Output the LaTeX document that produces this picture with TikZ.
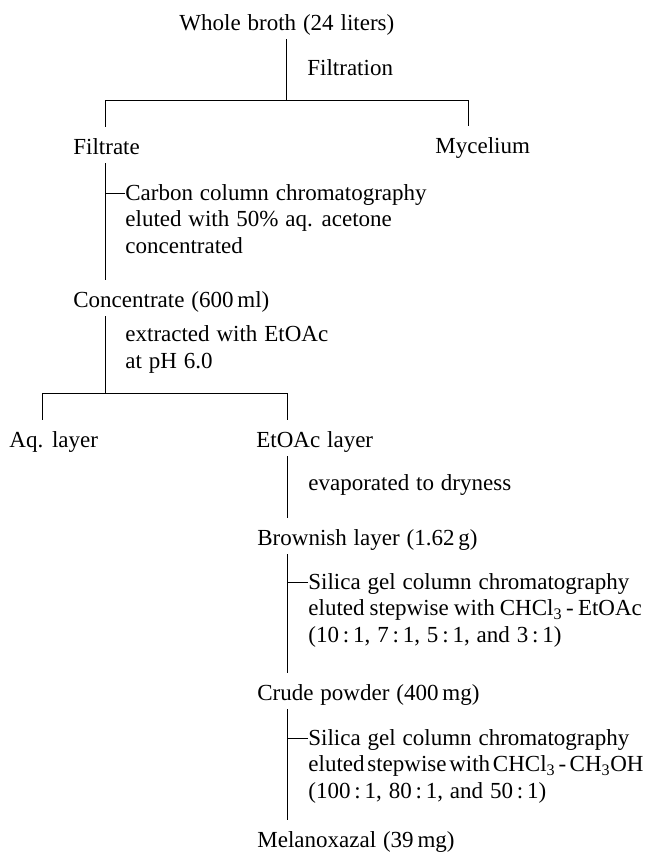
\documentclass[tikz,border=0pt]{standalone}
\usepackage{fontspec}
\setmainfont{Liberation Serif}[WordSpace=1.2]
\begin{document}
\begin{tikzpicture}[x=1pt,y=-1pt,line width=0.8pt,
  every node/.style={inner sep=0pt,anchor=base west,font=\fontsize{23}{26.5}\selectfont},
  item/.style={text height=27pt,text depth=9pt},
  note/.style={align=left}]
\useasboundingbox (0,0) rectangle (645,852);

\node[item] (broth) at (179,30) {Whole broth (24 liters)};
\node[item] (filtrate) at (73,154) {Filtrate};
\node[item] (mycel) at (435,153) {Mycelium};
\node[item] (conc) at (73,307) {Concentrate (600\,ml)};
\node[item] (aq) at (9,447) {Aq. layer};
\node[item] (etoac) at (256,447) {EtOAc layer};
\node[item] (brown) at (257,545) {Brownish layer (1.62\,g)};
\node[item] (crude) at (257,700) {Crude powder (400\,mg)};
\node[item] (mela) at (257,847) {Melanoxazal (39\,mg)};

\node (filtr) at (307,75) {Filtration};
\node[note] (carbon) at (125,253) {Carbon column chromatography\\eluted with 50\% aq. acetone\\concentrated};
\node[note] (extr) at (125,368) {extracted with EtOAc\\at pH 6.0};
\node (evap) at (308,490) {evaporated to dryness};
\node[note] (silica1) at (308,642) {Silica gel column chromatography\\eluted\hspace{.22em}stepwise\hspace{.22em}with\hspace{.22em}CHCl\textsubscript{3}\hspace{.18em}-\hspace{.18em}EtOAc\\(10\,:\,1, 7\,:\,1, 5\,:\,1, and 3\,:\,1)};
\node[note] (silica2) at (308,798) {Silica gel column chromatography\\eluted\hspace{.12em}stepwise\hspace{.12em}with\hspace{.12em}CHCl\textsubscript{3}\hspace{.15em}-\hspace{.15em}CH\textsubscript{3}OH\\(100\,:\,1, 80\,:\,1, and 50\,:\,1)};

\coordinate (s1) at (286,100);
\coordinate (s1l) at (105,100);
\coordinate (s1r) at (468,100);
\coordinate (s2) at (105,393);
\coordinate (s2l) at (42,393);
\coordinate (s2r) at (287.5,393);

\draw (broth.south -| s1) -- (s1);
\draw (filtrate.north -| s1l) -- (s1l) -- (s1r) -- (mycel.north -| s1r);
\draw (filtrate.south -| s1l) -- (conc.north -| s1l);
\draw ([yshift=60pt]carbon.base west) -- ([yshift=60pt]carbon.base west -| s1l);
\draw (conc.south -| s2) -- (s2);
\draw (aq.north -| s2l) -- (s2l) -- (s2r) -- (etoac.north -| s2r);
\draw (etoac.south -| s2r) -- (brown.north -| s2r);
\draw (brown.south -| s2r) -- (crude.north -| s2r);
\draw ([yshift=59.5pt]silica1.base west) -- ([yshift=59.5pt]silica1.base west -| s2r);
\draw (crude.south -| s2r) -- (mela.north -| s2r);
\draw ([yshift=59.5pt]silica2.base west) -- ([yshift=59.5pt]silica2.base west -| s2r);
\end{tikzpicture}
\end{document}
